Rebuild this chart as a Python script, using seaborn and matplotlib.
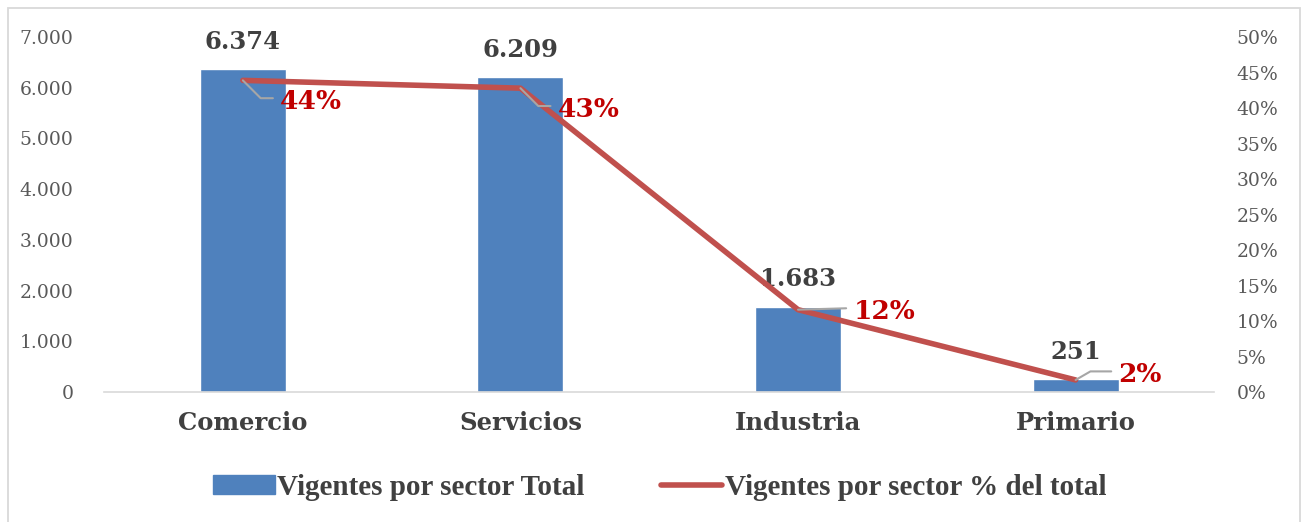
import numpy as np
import pandas as pd
import matplotlib
matplotlib.use("Agg")
import matplotlib.pyplot as plt
import seaborn as sns
from matplotlib.patches import Patch, Rectangle
from matplotlib.lines import Line2D

# ---- data ----
categories = ["Comercio", "Servicios", "Industria", "Primario"]
totals = [6374, 6209, 1683, 251]
pct_total = [43.9, 42.8, 11.6, 1.7]
left_ticks = [0, 1000, 2000, 3000, 4000, 5000, 6000, 7000]
right_ticks = [0, 5, 10, 15, 20, 25, 30, 35, 40, 45, 50]
legend_labels = ["Vigentes por sector Total", "Vigentes por sector % del total"]

sns.set_theme(style="white")
plt.rcParams["font.family"] = ["DejaVu Serif", "DejaVu Sans"]

BAR = "#4F81BD"
LINE = "#C0504D"
RED_TXT = "#C00000"
TXT = "#404040"
TICK = "#595959"

fig = plt.figure(figsize=(13.04, 5.22), dpi=100)
ax = fig.add_axes([0.0798, 0.249, 0.8515, 0.680])

df = pd.DataFrame({"sector": categories, "total": totals})
sns.barplot(data=df, x="sector", y="total", color=BAR, saturation=1,
            width=0.31, ax=ax)
ax.set_xlim(-0.5, 3.5)
ax.set_ylim(0, 7000)
ax.set_yticks(left_ticks)
ax.set_yticklabels([f"{t:,}".replace(",", ".") for t in left_ticks],
                   color=TICK, fontsize=13.5)
ax.set_xlabel("")
ax.set_ylabel("")
ax.set_xticks(range(len(categories)))
ax.set_xticklabels(categories, fontsize=17.5, fontweight="bold", color=TXT)
ax.tick_params(axis="x", length=0, pad=14)
ax.tick_params(axis="y", length=0, pad=22)
for s in ["top", "left", "right"]:
    ax.spines[s].set_visible(False)
ax.spines["bottom"].set_color("#D9D9D9")
ax.spines["bottom"].set_linewidth(1.2)

for i, v in enumerate(totals):
    ax.annotate(f"{v:,}".replace(",", "."), xy=(i, v), xytext=(0, 11),
                textcoords="offset points", ha="center", va="bottom",
                fontsize=17.5, fontweight="bold", color=TXT)

ax2 = ax.twinx()
sns.lineplot(x=np.arange(len(categories)), y=pct_total, ax=ax2,
             color=LINE, linewidth=4, solid_capstyle="round")
ax2.set_ylim(0, 50)
ax2.set_xlim(-0.5, 3.5)
ax2.set_yticks(right_ticks)
ax2.set_yticklabels([f"{t}%" for t in right_ticks], color=TICK, fontsize=13.5)
ax2.tick_params(axis="y", length=0, pad=16)
for s in ["top", "left", "right", "bottom"]:
    ax2.spines[s].set_visible(False)
ax2.set_ylabel("")

label_offsets = [(27, -15), (27, -15), (40, -1), (31, 4)]
conn = ["angle,angleA=0,angleB=-45,rad=0", "angle,angleA=0,angleB=-45,rad=0",
        "arc3,rad=0", "angle,angleA=0,angleB=30,rad=0"]
for i, p in enumerate(pct_total):
    ax2.annotate(f"{round(p):d}%", xy=(i, p), xytext=label_offsets[i],
                 textcoords="offset points", ha="left", va="center",
                 fontsize=19, fontweight="bold", color=RED_TXT,
                 arrowprops=dict(arrowstyle="-", color="#A6A6A6", lw=1.5,
                                 shrinkA=3, shrinkB=0, relpos=(0, 0.62),
                                 connectionstyle=conn[i]))

handles = [Patch(facecolor=BAR, edgecolor=BAR),
           Line2D([0], [0], color=LINE, linewidth=4, solid_capstyle="round")]
fig.legend(handles, legend_labels, loc="center", bbox_to_anchor=(0.506, 0.067),
           ncol=2, frameon=False, handlelength=2.1, handleheight=0.6,
           handletextpad=0.1, columnspacing=2.6,
           prop={"family": "Liberation Serif", "weight": "bold", "size": 21},
           labelcolor=TXT)

# outer chart frame
fig.patches.append(Rectangle((0.0062, -0.02), 0.991, 1.005,
                             transform=fig.transFigure, fill=False,
                             edgecolor="#D9D9D9", linewidth=1.3))

fig.savefig("out.png", dpi=100)
